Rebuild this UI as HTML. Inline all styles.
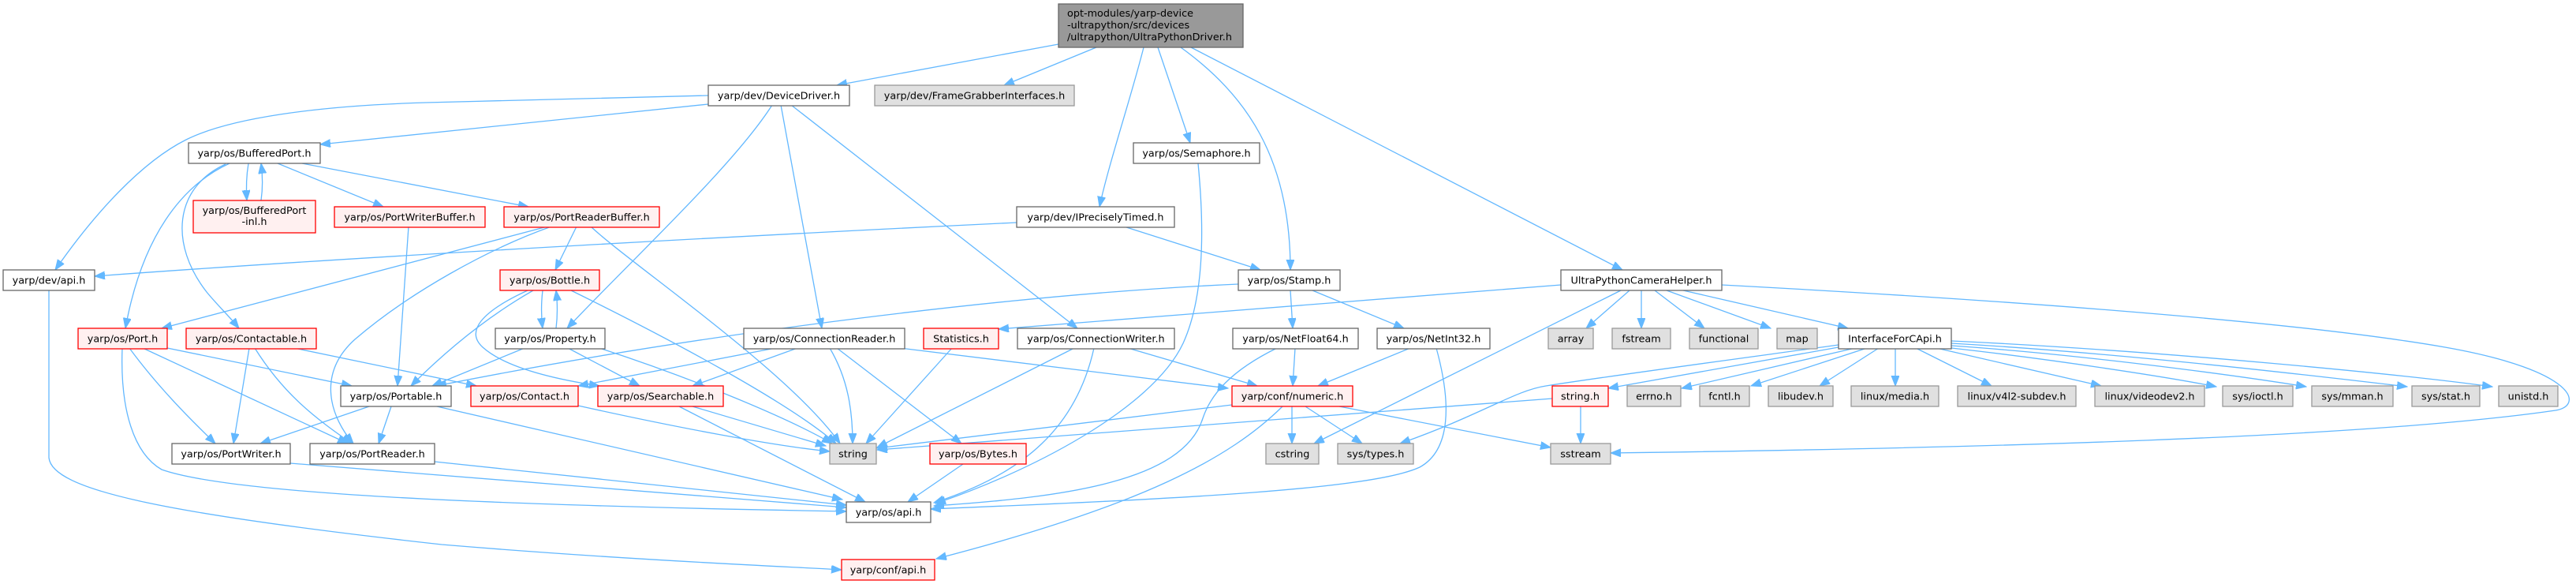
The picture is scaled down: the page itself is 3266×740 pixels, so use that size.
<!DOCTYPE html>
<html><head><meta charset="utf-8"><style>
html,body{margin:0;padding:0;background:#fff;}
svg{display:block;}
.w{fill:#fff;stroke:#666;stroke-width:1.3}
.r{fill:#fff0f0;stroke:#f00;stroke-width:1.3}
.g{fill:#e0e0e0;stroke:#999;stroke-width:1.3}
.t{fill:#999;stroke:#666;stroke-width:1.3}
text{font-family:"DejaVu Sans","Liberation Sans",sans-serif;font-size:12.8px;fill:#000;text-anchor:middle}
.e path{fill:none;stroke:#63b8ff;stroke-width:1.3;marker-end:url(#a)}
</style></head><body>
<svg width="3266" height="740" viewBox="0 0 3266 740" xmlns="http://www.w3.org/2000/svg">
<defs><marker id="a" markerWidth="14" markerHeight="11" refX="13" refY="5" orient="auto" markerUnits="userSpaceOnUse"><path d="M0,0 L13,5 L0,10 z" fill="#63b8ff" stroke="#63b8ff" stroke-width="1"/></marker></defs>
<g class="e">
<path d="M1342,56 L1061,108"/>
<path d="M1390,60 L1273,108"/>
<path d="M1450,60 C1435,120 1405,210 1394,262"/>
<path d="M1468,60 L1509,181"/>
<path d="M1497,60 C1580,120 1636,200 1636,342"/>
<path d="M1510,60 L2057,342"/>
<path d="M898,121 L540,130 C400,134 290,150 236,177 C180,205 120,270 70,342"/>
<path d="M898,132 L406,183"/>
<path d="M979,133 C930,210 800,330 719,416"/>
<path d="M990,133 L1042,416"/>
<path d="M1003,133 L1366,416"/>
<path d="M315,207 C312,225 312,240 313,254"/>
<path d="M331,254 C333,240 333,222 331,207"/>
<path d="M352,207 L486,262"/>
<path d="M383,207 L670,262"/>
<path d="M291,207 C230,235 180,300 159,416"/>
<path d="M286,208 C220,238 215,310 262,370 C275,386 290,400 303,416"/>
<path d="M518,287 L504,489"/>
<path d="M731,287 L704,342"/>
<path d="M694,287 L205,416"/>
<path d="M699,287 C620,315 520,370 450,430 C400,475 420,530 448,562"/>
<path d="M749,287 C800,335 1000,470 1065,562"/>
<path d="M1289,282 C1000,296 500,322 120,350"/>
<path d="M1425,287 L1598,342"/>
<path d="M688,368 C686,385 686,400 688,416"/>
<path d="M705,416 C707,400 707,385 705,368"/>
<path d="M676,368 C620,400 570,440 521,489"/>
<path d="M669,368 C610,395 590,420 612,440 C640,465 700,480 760,489"/>
<path d="M665,441 L548,489"/>
<path d="M720,441 L811,489"/>
<path d="M760,441 C880,480 1000,530 1055,562"/>
<path d="M724,368 C850,430 1000,510 1060,562"/>
<path d="M212,441 L446,489"/>
<path d="M164,441 C200,490 240,530 273,562"/>
<path d="M181,441 L441,562"/>
<path d="M155,441 C152,520 170,575 205,595 C290,625 600,640 1073,648"/>
<path d="M316,441 L296,562"/>
<path d="M323,441 C360,500 400,530 446,562"/>
<path d="M373,441 L604,489"/>
<path d="M468,515 L330,562"/>
<path d="M496,515 L480,562"/>
<path d="M554,515 L1068,633"/>
<path d="M368,587 L1073,643"/>
<path d="M551,585 L1073,640"/>
<path d="M62,368 L62,580 C66,620 200,650 560,690 C800,710 1000,718 1067,722"/>
<path d="M878,515 L1047,565"/>
<path d="M861,515 L1097,636"/>
<path d="M733,514 C850,540 980,565 1052,572"/>
<path d="M983,441 L733,489"/>
<path d="M1011,441 L878,489"/>
<path d="M1052,441 C1075,480 1081,520 1081,562"/>
<path d="M1061,441 L1219,562"/>
<path d="M1141,441 L1557,492"/>
<path d="M1207,441 L1098,562"/>
<path d="M1362,441 L1112,567"/>
<path d="M1387,441 C1365,540 1300,600 1184,637"/>
<path d="M1430,441 L1594,489"/>
<path d="M1221,588 L1151,636"/>
<path d="M1519,207 C1528,300 1525,380 1500,435 C1460,520 1300,600 1186,638"/>
<path d="M1570,360 C1300,372 900,420 553,489"/>
<path d="M1636,368 L1639,416"/>
<path d="M1664,368 L1780,416"/>
<path d="M1642,441 L1639,489"/>
<path d="M1619,441 C1560,470 1535,500 1525,530 C1500,610 1350,630 1184,641"/>
<path d="M1788,441 L1671,489"/>
<path d="M1821,441 C1840,510 1840,570 1800,592 C1740,620 1500,632 1180,645"/>
<path d="M1562,513 L1112,568"/>
<path d="M1626,515 C1560,580 1450,640 1187,708"/>
<path d="M1638,515 L1638,562"/>
<path d="M1655,515 L1727,562"/>
<path d="M1698,515 L1966,567"/>
<path d="M2004,515 L2004,562"/>
<path d="M1968,505 L1112,570"/>
<path d="M1979,361 L1266,417"/>
<path d="M2055,368 L1666,562"/>
<path d="M2066,368 L2011,416"/>
<path d="M2081,368 L2081,416"/>
<path d="M2098,368 L2161,416"/>
<path d="M2113,368 L2245,416"/>
<path d="M2134,368 L2343,416"/>
<path d="M2183,361 C2500,378 2900,405 3100,440 C3270,470 3275,515 3240,520 C3000,555 2500,568 2042,574"/>
<path d="M2331,437 C2200,455 2050,475 1960,489 C1920,495 1880,525 1775,562"/>
<path d="M2331,440 L2039,492"/>
<path d="M2352,441 L2132,492"/>
<path d="M2367,441 L2220,489"/>
<path d="M2382,441 L2307,489"/>
<path d="M2403,441 L2403,489"/>
<path d="M2429,441 L2525,489"/>
<path d="M2455,441 L2664,489"/>
<path d="M2474,441 C2600,455 2750,478 2810,490"/>
<path d="M2474,438 C2650,450 2850,478 2924,490"/>
<path d="M2474,435 C2700,448 2950,478 3052,490"/>
<path d="M2474,432 C2750,445 3050,475 3160,490"/>
</g>
<g>
<rect class="t" x="1342" y="5" width="234" height="55"/>
<text x="1353" y="21" style="text-anchor:start">opt-modules/yarp-device</text>
<text x="1353" y="36" style="text-anchor:start">-ultrapython/src/devices</text>
<text x="1353" y="51" style="text-anchor:start">/ultrapython/UltraPythonDriver.h</text>

<rect class="w" x="898" y="108" width="179" height="26"/><text x="987.5" y="125.5">yarp/dev/DeviceDriver.h</text>
<rect class="g" x="1109" y="108" width="253" height="26"/><text x="1235.5" y="125.5">yarp/dev/FrameGrabberInterfaces.h</text>

<rect class="w" x="239" y="181" width="167" height="26"/><text x="322.5" y="198.5">yarp/os/BufferedPort.h</text>
<rect class="w" x="1437" y="181" width="160" height="26"/><text x="1517" y="198.5">yarp/os/Semaphore.h</text>

<rect class="r" x="245" y="254" width="155" height="41"/><text x="322.5" y="271">yarp/os/BufferedPort</text><text x="322.5" y="285">-inl.h</text>
<rect class="r" x="424" y="262" width="191" height="26"/><text x="519.5" y="279.5">yarp/os/PortWriterBuffer.h</text>
<rect class="r" x="639" y="262" width="197" height="26"/><text x="737.5" y="279.5">yarp/os/PortReaderBuffer.h</text>
<rect class="w" x="1289" y="262" width="200" height="26"/><text x="1389" y="279.5">yarp/dev/IPreciselyTimed.h</text>

<rect class="w" x="4" y="342" width="116" height="26"/><text x="62" y="359.5">yarp/dev/api.h</text>
<rect class="r" x="634" y="342" width="126" height="26"/><text x="697" y="359.5">yarp/os/Bottle.h</text>
<rect class="w" x="1570" y="342" width="129" height="26"/><text x="1634.5" y="359.5">yarp/os/Stamp.h</text>
<rect class="w" x="1979" y="342" width="204" height="26"/><text x="2081" y="359.5">UltraPythonCameraHelper.h</text>

<rect class="r" x="99" y="416" width="113" height="26"/><text x="155.5" y="433.5">yarp/os/Port.h</text>
<rect class="r" x="236" y="416" width="165" height="26"/><text x="318.5" y="433.5">yarp/os/Contactable.h</text>
<rect class="w" x="628" y="416" width="139" height="26"/><text x="697.5" y="433.5">yarp/os/Property.h</text>
<rect class="w" x="943" y="416" width="204" height="26"/><text x="1045" y="433.5">yarp/os/ConnectionReader.h</text>
<rect class="r" x="1171" y="416" width="95" height="26"/><text x="1218.5" y="433.5">Statistics.h</text>
<rect class="w" x="1290" y="416" width="199" height="26"/><text x="1389.5" y="433.5">yarp/os/ConnectionWriter.h</text>
<rect class="w" x="1563" y="416" width="159" height="26"/><text x="1642.5" y="433.5">yarp/os/NetFloat64.h</text>
<rect class="w" x="1746" y="416" width="143" height="26"/><text x="1817.5" y="433.5">yarp/os/NetInt32.h</text>
<rect class="g" x="1963" y="416" width="57" height="26"/><text x="1991.5" y="433.5">array</text>
<rect class="g" x="2044" y="416" width="74" height="26"/><text x="2081" y="433.5">fstream</text>
<rect class="g" x="2142" y="416" width="87" height="26"/><text x="2185.5" y="433.5">functional</text>
<rect class="g" x="2253" y="416" width="51" height="26"/><text x="2278.5" y="433.5">map</text>
<rect class="w" x="2331" y="416" width="143" height="26"/><text x="2402.5" y="433.5">InterfaceForCApi.h</text>

<rect class="w" x="432" y="489" width="140" height="26"/><text x="502" y="506.5">yarp/os/Portable.h</text>
<rect class="r" x="597" y="489" width="136" height="26"/><text x="665" y="506.5">yarp/os/Contact.h</text>
<rect class="r" x="758" y="489" width="159" height="26"/><text x="837.5" y="506.5">yarp/os/Searchable.h</text>
<rect class="r" x="1562" y="489" width="153" height="26"/><text x="1638.5" y="506.5">yarp/conf/numeric.h</text>
<rect class="r" x="1968" y="489" width="71" height="26"/><text x="2003.5" y="506.5">string.h</text>
<rect class="g" x="2063" y="489" width="68" height="26"/><text x="2097" y="506.5">errno.h</text>
<rect class="g" x="2155" y="489" width="63" height="26"/><text x="2186.5" y="506.5">fcntl.h</text>
<rect class="g" x="2242" y="489" width="82" height="26"/><text x="2283" y="506.5">libudev.h</text>
<rect class="g" x="2347" y="489" width="111" height="26"/><text x="2402.5" y="506.5">linux/media.h</text>
<rect class="g" x="2482" y="489" width="150" height="26"/><text x="2557" y="506.5">linux/v4l2-subdev.h</text>
<rect class="g" x="2656" y="489" width="139" height="26"/><text x="2725.5" y="506.5">linux/videodev2.h</text>
<rect class="g" x="2818" y="489" width="89" height="26"/><text x="2862.5" y="506.5">sys/ioctl.h</text>
<rect class="g" x="2931" y="489" width="103" height="26"/><text x="2982.5" y="506.5">sys/mman.h</text>
<rect class="g" x="3058" y="489" width="86" height="26"/><text x="3101" y="506.5">sys/stat.h</text>
<rect class="g" x="3168" y="489" width="75" height="26"/><text x="3205.5" y="506.5">unistd.h</text>

<rect class="w" x="218" y="562" width="150" height="26"/><text x="293" y="579.5">yarp/os/PortWriter.h</text>
<rect class="w" x="393" y="562" width="158" height="26"/><text x="472" y="579.5">yarp/os/PortReader.h</text>
<rect class="g" x="1052" y="562" width="59" height="26"/><text x="1081.5" y="579.5">string</text>
<rect class="r" x="1179" y="562" width="122" height="26"/><text x="1240" y="579.5">yarp/os/Bytes.h</text>
<rect class="g" x="1605" y="562" width="67" height="26"/><text x="1638.5" y="579.5">cstring</text>
<rect class="g" x="1696" y="562" width="96" height="26"/><text x="1744" y="579.5">sys/types.h</text>
<rect class="g" x="1966" y="562" width="76" height="26"/><text x="2004" y="579.5">sstream</text>

<rect class="w" x="1073" y="636" width="107" height="26"/><text x="1126.5" y="653.5">yarp/os/api.h</text>
<rect class="r" x="1067" y="709" width="118" height="26"/><text x="1126" y="726.5">yarp/conf/api.h</text>
</g>
</svg>
</body></html>
